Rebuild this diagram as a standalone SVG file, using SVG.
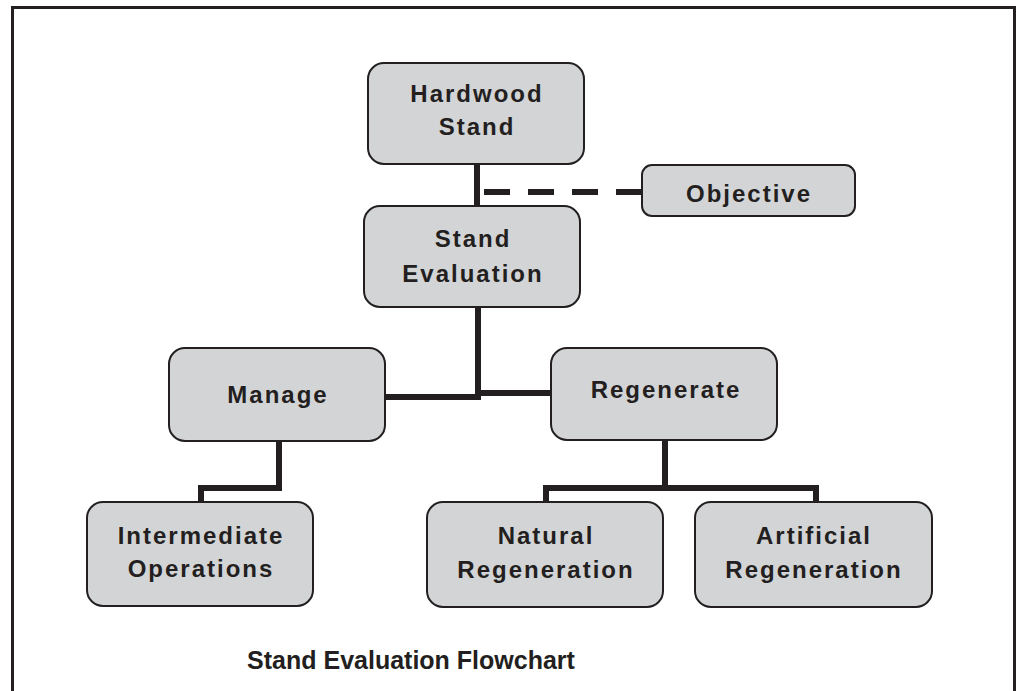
<svg xmlns="http://www.w3.org/2000/svg" width="1019" height="691" viewBox="0 0 1019 691">
<style>
.box{fill:#d3d4d6;stroke:#231f20;stroke-width:2}
.t{font-family:"Liberation Sans",Arial,sans-serif;font-weight:bold;font-size:24px;letter-spacing:2px;fill:#231f20;text-anchor:middle}
.title{font-family:"Liberation Sans",Arial,sans-serif;font-weight:bold;font-size:25px;fill:#231f20;text-anchor:middle}
.c{fill:none;stroke:#231f20;stroke-width:6;stroke-linejoin:miter;stroke-linecap:butt}
</style>
<rect width="1019" height="691" fill="#ffffff"/>
<path d="M12.5,691 V7.5 H1014.5 V691" fill="none" stroke="#231f20" stroke-width="3"/>
<g id="connectors">
<path class="c" d="M477,164 V206"/>
<path class="c" d="M484,192 H642" stroke-dasharray="26 18"/>
<path class="c" d="M478,307 V400"/>
<path class="c" d="M385,397 H481"/>
<path class="c" d="M475,393 H551"/>
<path class="c" d="M279,441 V488 H201 V502"/>
<path class="c" d="M665,440 V488"/>
<path class="c" d="M546,502 V488 H816 V502"/>
</g>
<g id="hardwood">
<rect class="box" x="368" y="63" width="216" height="101" rx="16"/>
<text class="t" x="477" y="102">Hardwood</text>
<text class="t" x="477" y="135">Stand</text>
</g>
<g id="objective">
<rect class="box" x="642" y="165" width="213" height="51" rx="10"/>
<text class="t" x="749" y="202">Objective</text>
</g>
<g id="evaluation">
<rect class="box" x="364" y="206" width="216" height="101" rx="16"/>
<text class="t" x="473" y="247">Stand</text>
<text class="t" x="473" y="282">Evaluation</text>
</g>
<g id="manage">
<rect class="box" x="169" y="348" width="216" height="93" rx="16"/>
<text class="t" x="278" y="403">Manage</text>
</g>
<g id="regenerate">
<rect class="box" x="551" y="348" width="226" height="92" rx="16"/>
<text class="t" x="666" y="398">Regenerate</text>
</g>
<g id="intermediate">
<rect class="box" x="87" y="502" width="226" height="104" rx="16"/>
<text class="t" x="201" y="544">Intermediate</text>
<text class="t" x="201" y="577">Operations</text>
</g>
<g id="natural">
<rect class="box" x="427" y="502" width="236" height="105" rx="16"/>
<text class="t" x="546" y="544">Natural</text>
<text class="t" x="546" y="578">Regeneration</text>
</g>
<g id="artificial">
<rect class="box" x="695" y="502" width="237" height="105" rx="16"/>
<text class="t" x="814" y="544">Artificial</text>
<text class="t" x="814" y="578">Regeneration</text>
</g>
<text class="title" x="411" y="669">Stand Evaluation Flowchart</text>
</svg>
